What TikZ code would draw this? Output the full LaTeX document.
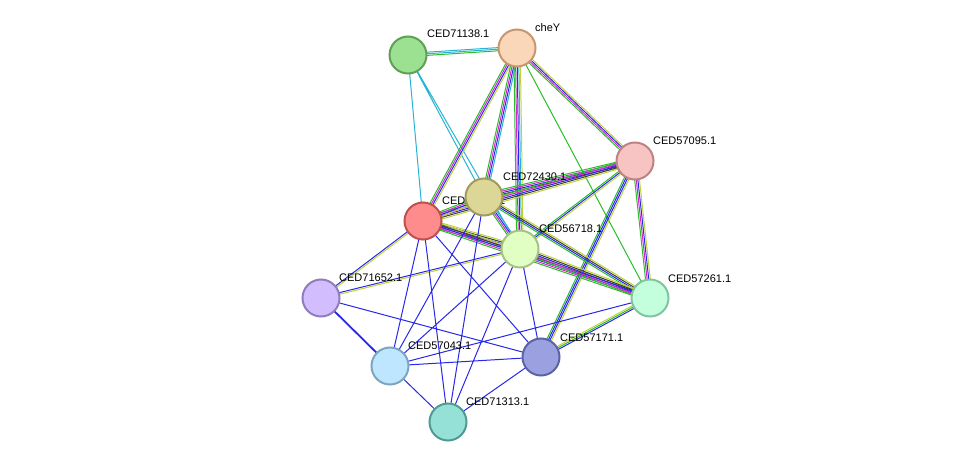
\documentclass[tikz,border=0pt]{standalone}
\usepackage{fontspec}
\setmainfont{Liberation Sans}
\usetikzlibrary{calc}
\definecolor{sg}{RGB}{40,190,40}
\definecolor{sb}{RGB}{40,40,230}
\definecolor{sm}{RGB}{210,40,210}
\definecolor{sc}{RGB}{40,180,210}
\definecolor{sy}{RGB}{190,210,60}
\definecolor{sk}{RGB}{60,60,60}
\newcommand\medge[3]{\foreach \cc/\oo in {#3}{\draw[\cc,line width=1pt] ($(#1)!\oo pt!90:(#2)$) -- ($(#2)!\oo pt!-90:(#1)$);}}
\tikzset{pn/.style={circle,minimum size=37pt,inner sep=0pt,line width=2pt},
lb/.style={font=\fontsize{11}{11}\selectfont,inner sep=0pt,anchor=south west},
se/.style={sb,line width=1pt}}
\begin{document}
\begin{tikzpicture}[x=1pt,y=-1pt]
\useasboundingbox (0,0) rectangle (975,468);
\coordinate (a) at (408,55);
\coordinate (y) at (517,48);
\coordinate (p) at (635,161);
\coordinate (k) at (484,197);
\coordinate (r) at (423,221);
\coordinate (g) at (520,249);
\coordinate (m) at (650,298);
\coordinate (l) at (321,298);
\coordinate (c) at (390,366);
\coordinate (s) at (541,357);
\coordinate (t) at (448,422);
% edges
\medge{a}{y}{sg/-1.6,sc/0,sc/1.6}
\draw[sc,line width=1pt] (a)--(r) (a)--(g) (a)--(k);
\medge{y}{p}{sg/-2.4,sm/-0.8,sb/0.8,sy/2.4}
\medge{y}{r}{sg/-2.4,sm/-0.8,sb/0.8,sy/2.4}
\medge{y}{k}{sg/-2.4,sm/-0.8,sb/0.8,sc/2.4}
\medge{y}{g}{sg/-3.2,sm/-1.6,sb/0,sc/1.6,sy/3.2}
\draw[sg,line width=1pt] (y)--(m);
\medge{p}{k}{sg/-3.2,sm/-1.6,sb/0,sk/1.6,sy/3.2}
\medge{p}{r}{sg/-3.2,sm/-1.6,sb/0,sk/1.6,sy/3.2}
\medge{p}{g}{sg/-1.6,sb/0,sy/1.6}
\medge{p}{m}{sg/-2.4,sm/-0.8,sb/0.8,sy/2.4}
\medge{p}{s}{sg/-2.4,sb/-0.8,sb/0.8,sy/2.4}
\medge{k}{r}{sg/-2.4,sm/-0.8,sb/0.8,sy/2.4}
\medge{k}{g}{sg/-2.4,sm/-0.8,sb/0.8,sc/2.4}
\medge{k}{m}{sg/-2.4,sb/-0.8,sk/0.8,sy/2.4}
\medge{r}{g}{sg/-3.2,sm/-1.6,sb/0,sk/1.6,sy/3.2}
\medge{r}{m}{sg/-3.2,sm/-1.6,sb/0,sk/1.6,sy/3.2}
\medge{g}{m}{sg/-3.2,sm/-1.6,sb/0,sk/1.6,sy/3.2}
\medge{r}{l}{sb/-0.8,sy/0.8}
\medge{g}{l}{sb/-0.8,sy/0.8}
\draw[se] (r)--(c) (r)--(t) (r)--(s) (g)--(c) (g)--(t) (g)--(s) (k)--(c) (k)--(t)
  (l)--(s) (c)--(t) (c)--(s) (c)--(m) (t)--(s);
\draw[sb,line width=1.8pt] (l)--(c);
\medge{s}{m}{sb/-1.6,sg/0,sy/1.6}
% labels
\node[lb] at (427,38) {CED71138.1};
\node[lb] at (535,32) {cheY};
\node[lb] at (653,145) {CED57095.1};
\node[lb] at (442,205) {CED72431.1};
\node[lb] at (503,181) {CED72430.1};
\node[lb] at (539,233) {CED56718.1};
\node[lb] at (668,283) {CED57261.1};
\node[lb] at (339,282) {CED71652.1};
\node[lb] at (408,350) {CED57043.1};
\node[lb] at (560,342) {CED57171.1};
\node[lb] at (466,406) {CED71313.1};
% nodes
\node[pn,fill={rgb,255:red,155;green,225;blue,145},draw={rgb,255:red,95;green,160;blue,85}] (A) at (a) {};
\node[pn,fill={rgb,255:red,250;green,215;blue,185},draw={rgb,255:red,200;green,150;blue,110}] (Y) at (y) {};
\node[pn,fill={rgb,255:red,248;green,195;blue,195},draw={rgb,255:red,190;green,130;blue,130}] (P) at (p) {};
\node[pn,fill={rgb,255:red,255;green,140;blue,140},draw={rgb,255:red,190;green,80;blue,80}] (R) at (r) {};
\node[pn,fill={rgb,255:red,220;green,215;blue,150},draw={rgb,255:red,160;green,155;blue,90}] (K) at (k) {};
\node[pn,fill={rgb,255:red,225;green,255;blue,195},draw={rgb,255:red,165;green,195;blue,135}] (G) at (g) {};
\node[pn,fill={rgb,255:red,195;green,255;blue,220},draw={rgb,255:red,130;green,195;blue,160}] (M) at (m) {};
\node[pn,fill={rgb,255:red,210;green,190;blue,255},draw={rgb,255:red,145;green,125;blue,190}] (L) at (l) {};
\node[pn,fill={rgb,255:red,190;green,230;blue,255},draw={rgb,255:red,125;green,165;blue,195}] (C) at (c) {};
\node[pn,fill={rgb,255:red,155;green,160;blue,225},draw={rgb,255:red,90;green,100;blue,165}] (S) at (s) {};
\node[pn,fill={rgb,255:red,150;green,225;blue,215},draw={rgb,255:red,80;green,155;blue,145}] (T) at (t) {};
\end{tikzpicture}
\end{document}
